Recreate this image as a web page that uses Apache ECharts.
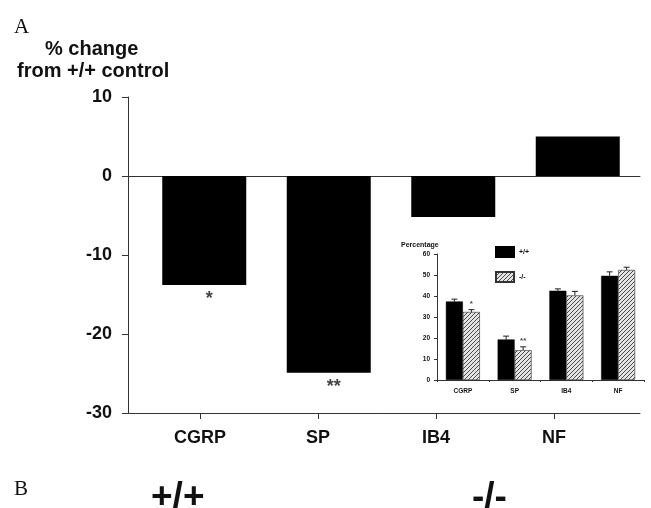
<!DOCTYPE html>
<html>
<head>
<meta charset="utf-8">
<script src="https://cdn.jsdelivr.net/npm/echarts@6.0.0/dist/echarts.min.js"></script>
<style>
  html, body { margin: 0; padding: 0; background: #fff; }
  #chart { width: 651px; height: 508px; }
</style>
</head>
<body>
<div id="chart"></div>
<script>
  // main panel: % change from +/+ control
  var mainCats = ['CGRP', 'SP', 'IB4', 'NF'];
  var mainChange = [-13.8, -24.9, -5.2, 5];
  var mainMarks = ['*', '**', '', ''];
  var mainTicks = [-30, -20, -10, 0, 10];

  // inset: percentage of neurons
  var insetCats = ['CGRP', 'SP', 'IB4', 'NF'];
  var wildType = [37.4, 19.3, 42.5, 49.6];
  var wildErr = [1.1, 1.6, 0.9, 1.9];
  var knockout = [32.4, 14.2, 40.3, 52.4];
  var knockoutErr = [1.1, 1.6, 1.9, 1.3];
  var insetMarks = ['*', '**', '', ''];

  var FONT = 'Liberation Sans, Arial, sans-serif';
  var INK = '#111';

  // diagonal hatch for the -/- bars
  function hatchPattern() {
    var c = document.createElement('canvas');
    c.width = 4; c.height = 4;
    var g = c.getContext('2d');
    g.fillStyle = '#e4e4e4';
    g.fillRect(0, 0, 4, 4);
    g.strokeStyle = '#4a4a4a';
    g.lineWidth = 1;
    g.beginPath();
    g.moveTo(0, 4); g.lineTo(4, 0);
    g.moveTo(-1, 1); g.lineTo(1, -1);
    g.moveTo(3, 5); g.lineTo(5, 3);
    g.stroke();
    return { image: c, repeat: 'repeat' };
  }

  function errorBars(shift) {
    return function (params, api) {
      var cat = api.value(0);
      var base = api.coord([cat, api.value(1)]);
      var top = api.coord([cat, api.value(1) + api.value(2)]);
      var x = base[0] + shift;
      return {
        type: 'group',
        children: [
          { type: 'line', shape: { x1: x, y1: base[1], x2: x, y2: top[1] }, style: { stroke: '#222', lineWidth: 1 } },
          { type: 'line', shape: { x1: x - 3, y1: top[1], x2: x + 3, y2: top[1] }, style: { stroke: '#222', lineWidth: 1 } }
        ]
      };
    };
  }

  var hidden = { show: false };
  var mainBox = { top: 97, bottom: 95 };
  var chart = echarts.init(document.getElementById('chart'), null, { renderer: 'canvas' });

  chart.setOption({
    animation: false,
    backgroundColor: '#fff',
    title: [
      { text: 'A', left: 9, top: 12, textStyle: { fontFamily: 'Liberation Serif, serif', fontWeight: 'normal', fontSize: 21, color: INK } },
      { text: '% change', left: 40, top: 34, textStyle: { fontFamily: FONT, fontWeight: 'bold', fontSize: 20, color: INK } },
      { text: 'from +/+ control', left: 12, top: 56, textStyle: { fontFamily: FONT, fontWeight: 'bold', fontSize: 20, color: INK } },
      { text: 'B', left: 9, top: 474, textStyle: { fontFamily: 'Liberation Serif, serif', fontWeight: 'normal', fontSize: 21, color: INK } },
      { text: '+/+', left: 146, top: 474, textStyle: { fontFamily: FONT, fontWeight: 'bold', fontSize: 37, color: INK } },
      { text: '-/-', left: 467, top: 474, textStyle: { fontFamily: FONT, fontWeight: 'bold', fontSize: 37, color: INK } },
      { text: 'Percentage', left: 396, top: 237, textStyle: { fontFamily: FONT, fontWeight: 'bold', fontSize: 7, color: INK } }
    ],
    legend: {
      data: ['+/+', '-/-'],
      orient: 'vertical',
      left: 490,
      top: 241,
      itemWidth: 18,
      itemHeight: 10,
      itemGap: 13,
      icon: 'rect',
      selectedMode: false,
      textStyle: { fontFamily: FONT, fontWeight: 'bold', fontSize: 7, color: INK }
    },
    grid: [
      { left: 128, right: 11, top: mainBox.top, bottom: mainBox.bottom },  // y axis + zero line
      { left: 128, right: 11, top: mainBox.top, bottom: mainBox.bottom },  // bottom axis line
      { left: 141, right: 38, top: mainBox.top, bottom: mainBox.bottom },  // category labels
      { left: 142, right: 11, top: mainBox.top, bottom: mainBox.bottom },  // bars
      { left: 437, right: 7, top: 254, bottom: 128 }                       // inset
    ],
    xAxis: [
      { gridIndex: 0, type: 'category', data: mainCats, axisLine: { onZero: true, lineStyle: { color: '#333', width: 1 } }, axisTick: hidden, axisLabel: hidden },
      { gridIndex: 1, type: 'category', data: mainCats, axisLine: { onZero: false, lineStyle: { color: '#333', width: 1 } }, axisTick: hidden, axisLabel: hidden },
      { gridIndex: 2, type: 'category', data: mainCats, axisLine: { show: false, onZero: false },
        axisTick: { show: true, alignWithLabel: true, length: 6, lineStyle: { color: '#333' } },
        axisLabel: { margin: 16, fontFamily: FONT, fontWeight: 'bold', fontSize: 18, color: INK } },
      { gridIndex: 3, type: 'category', data: mainCats, show: false },
      { gridIndex: 4, type: 'category', data: insetCats,
        axisLine: { onZero: false, lineStyle: { color: '#333', width: 1 } },
        axisTick: { show: true, length: 2, lineStyle: { color: '#333' } },
        axisLabel: { margin: 8, fontFamily: FONT, fontWeight: 'bold', fontSize: 6.5, color: INK } }
    ],
    yAxis: [
      { gridIndex: 0, type: 'value', min: mainTicks[0], max: mainTicks[mainTicks.length - 1], interval: 10,
        axisLine: { show: true, lineStyle: { color: '#333', width: 1 } },
        axisTick: { show: true, length: 6, lineStyle: { color: '#333' } },
        axisLabel: { margin: 16, fontFamily: FONT, fontWeight: 'bold', fontSize: 18, color: INK },
        splitLine: hidden },
      { gridIndex: 1, type: 'value', min: -30, max: 10, show: false },
      { gridIndex: 2, type: 'value', min: -30, max: 10, show: false },
      { gridIndex: 3, type: 'value', min: -30, max: 10, show: false },
      { gridIndex: 4, type: 'value', min: 0, max: 60, interval: 10,
        axisLine: { show: true, lineStyle: { color: '#333', width: 1 } },
        axisTick: { show: true, length: 3, lineStyle: { color: '#333' } },
        axisLabel: { margin: 7, fontFamily: FONT, fontWeight: 'bold', fontSize: 6.5, color: INK },
        splitLine: hidden }
    ],
    series: [
      {
        name: 'change',
        type: 'bar',
        xAxisIndex: 3, yAxisIndex: 3,
        data: mainChange,
        barWidth: 84,
        itemStyle: { color: '#000' },
        silent: true
      },
      {
        name: 'change marks',
        type: 'scatter',
        xAxisIndex: 3, yAxisIndex: 3,
        data: mainChange,
        symbolSize: 0,
        silent: true,
        label: {
          show: true, position: 'bottom', distance: 5, offset: [5, 0],
          formatter: function (p) { return mainMarks[p.dataIndex]; },
          fontFamily: FONT, fontWeight: 'bold', fontSize: 18, color: INK
        }
      },
      {
        name: '+/+',
        type: 'bar',
        xAxisIndex: 4, yAxisIndex: 4,
        data: wildType,
        barWidth: 17,
        barGap: '0%',
        itemStyle: { color: '#000', borderColor: '#000', borderWidth: 0.5 },
        silent: true
      },
      {
        name: '-/-',
        type: 'bar',
        xAxisIndex: 4, yAxisIndex: 4,
        data: knockout,
        barWidth: 17,
        barGap: '0%',
        itemStyle: { color: hatchPattern(), borderColor: '#333', borderWidth: 0.6 },
        silent: true
      },
      {
        name: 'wild err',
        type: 'custom',
        xAxisIndex: 4, yAxisIndex: 4,
        data: insetCats.map(function (c, i) { return [i, wildType[i], wildErr[i]]; }),
        encode: { x: 0, y: 1 },
        renderItem: errorBars(-8.5),
        silent: true
      },
      {
        name: 'ko err',
        type: 'custom',
        xAxisIndex: 4, yAxisIndex: 4,
        data: insetCats.map(function (c, i) { return [i, knockout[i], knockoutErr[i]]; }),
        encode: { x: 0, y: 1 },
        renderItem: errorBars(8.5),
        silent: true
      },
      {
        name: 'ko marks',
        type: 'scatter',
        xAxisIndex: 4, yAxisIndex: 4,
        data: insetCats.map(function (c, i) { return [i, knockout[i] + knockoutErr[i]]; }),
        symbolSize: 0,
        silent: true,
        label: {
          show: true, position: 'top', distance: 2, offset: [8.5, 0],
          formatter: function (p) { return insetMarks[p.dataIndex]; },
          fontFamily: FONT, fontWeight: 'bold', fontSize: 8, color: INK
        }
      }
    ]
  });
</script>
</body>
</html>
